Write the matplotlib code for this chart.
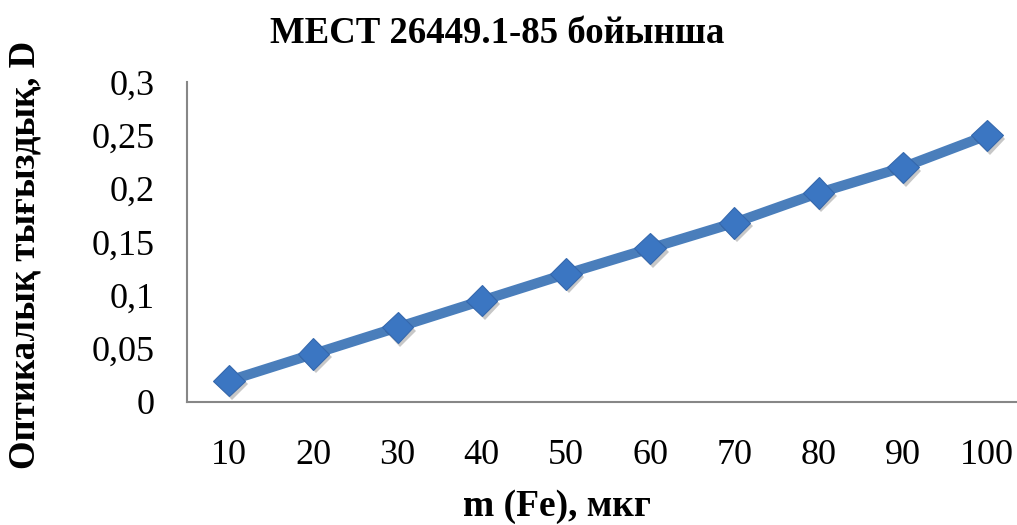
import matplotlib
matplotlib.use("Agg")
import matplotlib.pyplot as plt
import matplotlib.patheffects as pe

# Calibration data: iron mass vs optical density
mass_labels = ["10", "20", "30", "40", "50", "60", "70", "80", "90", "100"]
optical_density = [0.02, 0.045, 0.07, 0.095, 0.12, 0.144, 0.168, 0.196, 0.22, 0.25]
y_ticks = [0, 0.05, 0.1, 0.15, 0.2, 0.25, 0.3]
y_tick_labels = ["0", "0,05", "0,1", "0,15", "0,2", "0,25", "0,3"]

plt.rcParams["font.family"] = ["Liberation Serif", "DejaVu Serif"]

fig = plt.figure(figsize=(10.17, 5.25), dpi=100)
ax = fig.add_axes([0.1839, 0.2343, 0.828, 0.6095])

x = list(range(1, len(mass_labels) + 1))
ax.plot(x, optical_density, color="#4A7EBB", linewidth=7.3, solid_capstyle="round",
        zorder=2)
ax.plot(x, optical_density, linestyle="none", marker="D", markersize=16,
        markerfacecolor="#3B76C2", markeredgecolor="#3568AD", markeredgewidth=0.8,
        zorder=3,
        path_effects=[pe.SimplePatchShadow(offset=(2, -2.5), alpha=0.22, shadow_rgbFace="k"),
                      pe.Normal()])

ax.set_xlim(0.5, len(mass_labels) + 0.5)
ax.set_ylim(0, 0.3)
ax.set_xticks(x)
ax.set_xticklabels(mass_labels)
ax.set_yticks(y_ticks)
ax.set_yticklabels(y_tick_labels)
ax.tick_params(axis="both", length=0, labelsize=26)
ax.tick_params(axis="y", pad=23)
ax.tick_params(axis="x", pad=27)

for side in ("top", "right"):
    ax.spines[side].set_visible(False)
for side in ("left", "bottom"):
    ax.spines[side].set_color("#878787")
    ax.spines[side].set_linewidth(1.5)

fig.text(0.489, 0.937, "МЕСТ 26449.1-85 бойынша", ha="center", va="center",
         fontsize=26.5, fontweight="bold")
fig.text(0.548, 0.035, "m (Fe), мкг", ha="center", va="center",
         fontsize=27, fontweight="bold")
fig.text(0.025, 0.515, "Оптикалық тығыздық, D", ha="center", va="center",
         rotation=90, fontsize=26.5, fontweight="bold")

fig.savefig("out.png", dpi=100)
